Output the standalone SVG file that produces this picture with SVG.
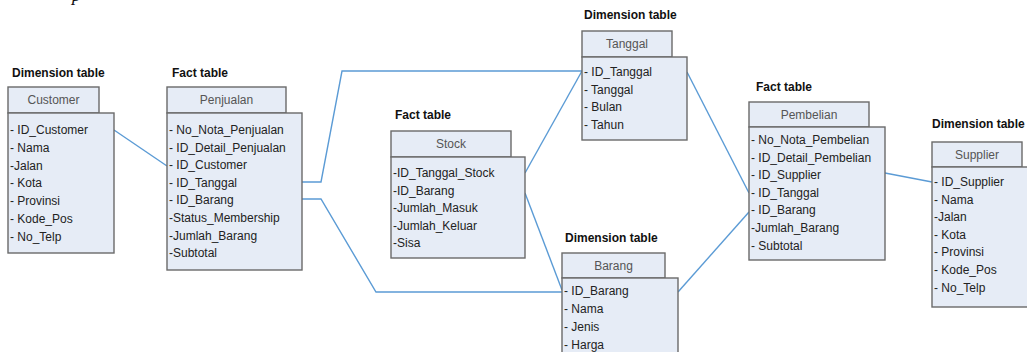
<svg xmlns="http://www.w3.org/2000/svg" width="1027" height="352" viewBox="0 0 1027 352">
<style>
.box{fill:#e6ecf6;stroke:#6a6a6a;stroke-width:1.4}
.lbl{font-family:"Liberation Sans",Arial,sans-serif;font-size:12px;font-weight:bold;fill:#111}
.ttl{font-family:"Liberation Sans",Arial,sans-serif;font-size:12px;fill:#555;text-anchor:middle}
.itm{font-family:"Liberation Sans",Arial,sans-serif;font-size:12px;fill:#222}
.conn{fill:none;stroke:#5b9bd5;stroke-width:1.4}
</style>
<rect width="1027" height="352" fill="#ffffff"/>
<text x="72" y="1" style="font-family:'Liberation Serif',serif;font-style:italic;font-size:18px;fill:#111">p</text>
<g id="connectors">
<path class="conn" d="M114,130 L167,166"/>
<path class="conn" d="M302,182 L321,182 L342,71 L582,71"/>
<path class="conn" d="M302,199 L321,199 L376,292 L562,292"/>
<path class="conn" d="M525,173 L582,71"/>
<path class="conn" d="M525,193 L562,290"/>
<path class="conn" d="M687,72 L749,193"/>
<path class="conn" d="M678,292 L749,212"/>
<path class="conn" d="M885,173 L932,182"/>
</g>
<g id="customer">
<text class="lbl" x="12" y="77">Dimension table</text>
<rect class="box" x="8" y="87" width="91" height="26"/>
<text class="ttl" x="53.5" y="104">Customer</text>
<rect class="box" x="8" y="113" width="106" height="140"/>
<text class="itm" x="10" y="134">- ID_Customer</text>
<text class="itm" x="10" y="151.8">- Nama</text>
<text class="itm" x="10" y="169.6">-Jalan</text>
<text class="itm" x="10" y="187.4">- Kota</text>
<text class="itm" x="10" y="205.2">- Provinsi</text>
<text class="itm" x="10" y="223">- Kode_Pos</text>
<text class="itm" x="10" y="240.8">- No_Telp</text>
</g>
<g id="penjualan">
<text class="lbl" x="172" y="77">Fact table</text>
<rect class="box" x="167" y="87" width="119" height="26"/>
<text class="ttl" x="226.5" y="104">Penjualan</text>
<rect class="box" x="167" y="113" width="135" height="157"/>
<text class="itm" x="169" y="134">- No_Nota_Penjualan</text>
<text class="itm" x="169" y="151.6">- ID_Detail_Penjualan</text>
<text class="itm" x="169" y="169.2">- ID_Customer</text>
<text class="itm" x="169" y="186.8">- ID_Tanggal</text>
<text class="itm" x="169" y="204.4">- ID_Barang</text>
<text class="itm" x="169" y="222">-Status_Membership</text>
<text class="itm" x="169" y="239.6">-Jumlah_Barang</text>
<text class="itm" x="169" y="257.2">-Subtotal</text>
</g>
<g id="stock">
<text class="lbl" x="395" y="119">Fact table</text>
<rect class="box" x="391" y="131" width="120" height="26"/>
<text class="ttl" x="451" y="148">Stock</text>
<rect class="box" x="391" y="157" width="134" height="101"/>
<text class="itm" x="393" y="177">-ID_Tanggal_Stock</text>
<text class="itm" x="393" y="194.5">-ID_Barang</text>
<text class="itm" x="393" y="212">-Jumlah_Masuk</text>
<text class="itm" x="393" y="229.5">-Jumlah_Keluar</text>
<text class="itm" x="393" y="247">-Sisa</text>
</g>
<g id="tanggal">
<text class="lbl" x="584" y="19">Dimension table</text>
<rect class="box" x="582" y="31" width="90" height="26"/>
<text class="ttl" x="627" y="48">Tanggal</text>
<rect class="box" x="582" y="57" width="105" height="83"/>
<text class="itm" x="584" y="76">- ID_Tanggal</text>
<text class="itm" x="584" y="93.5">- Tanggal</text>
<text class="itm" x="584" y="111">- Bulan</text>
<text class="itm" x="584" y="128.5">- Tahun</text>
</g>
<g id="barang">
<text class="lbl" x="565" y="242">Dimension table</text>
<rect class="box" x="562" y="253" width="103" height="25"/>
<text class="ttl" x="613.5" y="270">Barang</text>
<rect class="box" x="562" y="278" width="116" height="84"/>
<text class="itm" x="564" y="295">- ID_Barang</text>
<text class="itm" x="564" y="313">- Nama</text>
<text class="itm" x="564" y="331">- Jenis</text>
<text class="itm" x="564" y="349">- Harga</text>
</g>
<g id="pembelian">
<text class="lbl" x="756" y="91">Fact table</text>
<rect class="box" x="749" y="102" width="120" height="25"/>
<text class="ttl" x="809" y="119">Pembelian</text>
<rect class="box" x="749" y="127" width="136" height="133"/>
<text class="itm" x="751" y="144">- No_Nota_Pembelian</text>
<text class="itm" x="751" y="161.6">- ID_Detail_Pembelian</text>
<text class="itm" x="751" y="179.2">- ID_Supplier</text>
<text class="itm" x="751" y="196.8">- ID_Tanggal</text>
<text class="itm" x="751" y="214.4">- ID_Barang</text>
<text class="itm" x="751" y="232">-Jumlah_Barang</text>
<text class="itm" x="751" y="249.6">- Subtotal</text>
</g>
<g id="supplier">
<text class="lbl" x="932" y="128">Dimension table</text>
<rect class="box" x="932" y="142" width="90" height="25"/>
<text class="ttl" x="977" y="159">Supplier</text>
<rect class="box" x="932" y="167" width="100" height="140"/>
<text class="itm" x="934" y="186">- ID_Supplier</text>
<text class="itm" x="934" y="203.6">- Nama</text>
<text class="itm" x="934" y="221.2">-Jalan</text>
<text class="itm" x="934" y="238.8">- Kota</text>
<text class="itm" x="934" y="256.4">- Provinsi</text>
<text class="itm" x="934" y="274">- Kode_Pos</text>
<text class="itm" x="934" y="291.6">- No_Telp</text>
</g>
</svg>
